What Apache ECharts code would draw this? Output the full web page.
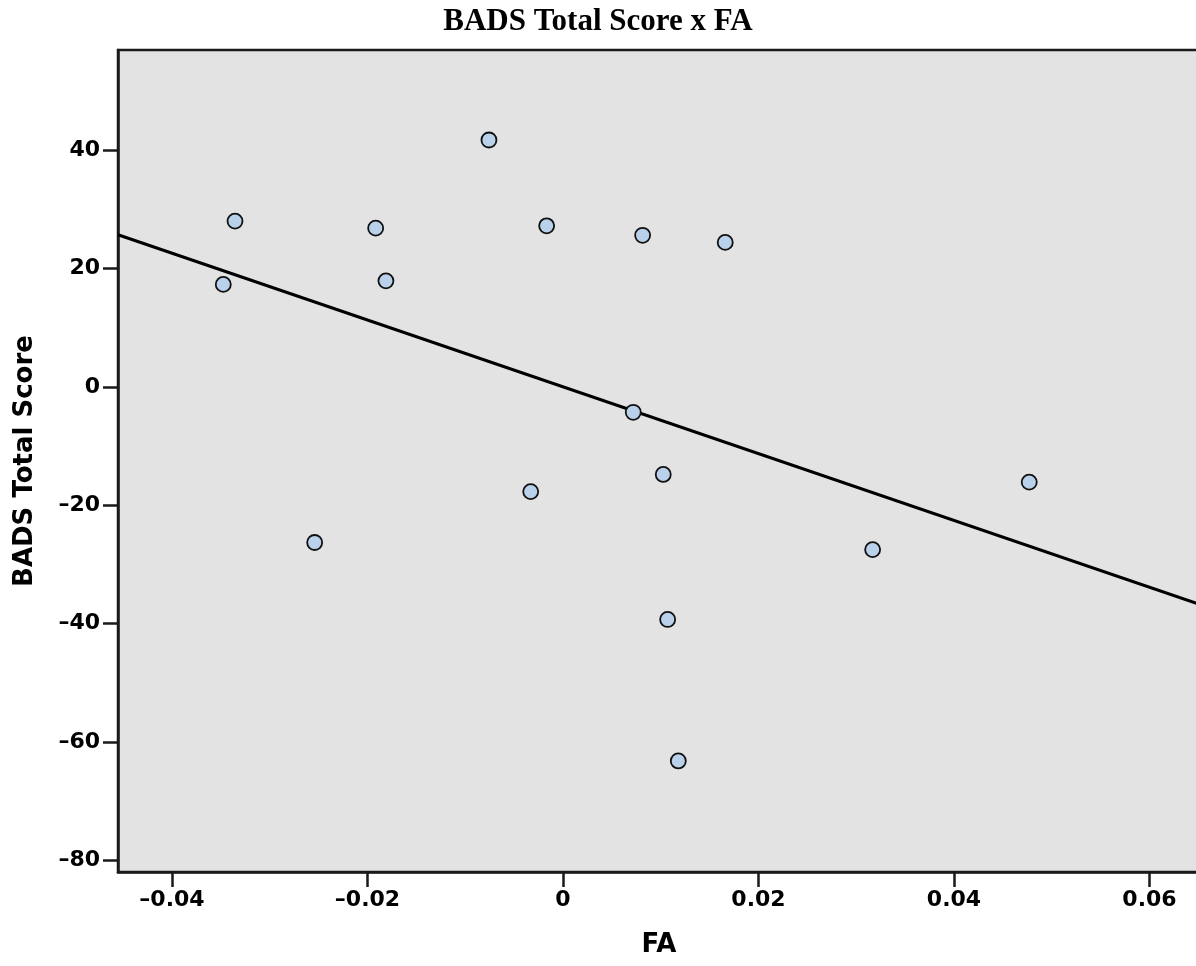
<!DOCTYPE html>
<html>
<head>
<meta charset="utf-8">
<title>BADS Total Score x FA</title>
<script src="https://cdn.jsdelivr.net/npm/echarts@6/dist/echarts.min.js"></script>
<style>
  html, body { margin: 0; padding: 0; background: #fff; }
  #chart { width: 1196px; height: 966px; }
</style>
</head>
<body>
<div id="chart"></div>
<script>
// data
const faValues = [-0.03355, -0.03475, -0.01916, -0.01811, -0.00757, -0.00167, 0.00815, 0.01660,
                  0.00719, 0.01026, -0.00330, -0.02540, 0.01071, 0.01180, 0.03168, 0.04770];
const badsValues = [28.0, 17.3, 26.8, 17.9, 41.7, 27.2, 25.6, 24.4,
                    -4.3, -14.8, -17.7, -26.3, -39.3, -63.2, -27.5, -16.1];
const xTicks = [-0.04, -0.02, 0, 0.02, 0.04, 0.06];
const yTicks = [-80, -60, -40, -20, 0, 20, 40];

const xMin = -0.04552, xMax = 0.06517;
const yMin = -81.96, yMax = 56.9;

// least squares fit line
function fitLine(xs, ys) {
  let n = xs.length, mx = 0, my = 0;
  for (let i = 0; i < n; i++) { mx += xs[i]; my += ys[i]; }
  mx /= n; my /= n;
  let sxy = 0, sxx = 0;
  for (let i = 0; i < n; i++) {
    sxy += (xs[i] - mx) * (ys[i] - my);
    sxx += (xs[i] - mx) * (xs[i] - mx);
  }
  let b = sxy / sxx;
  return { b: b, a: my - b * mx };
}
const fit = fitLine(faValues, badsValues);

const points = faValues.map((x, i) => [x, badsValues[i]]);
const lineData = [[xMin, fit.a + fit.b * xMin], [xMax, fit.a + fit.b * xMax]];

function fmt(v) {
  let s = String(Math.round(v * 1000) / 1000);
  return s.replace('-', '\u2013');
}

const tickFont = { color: "#000", fontFamily: "DejaVu Sans", fontWeight: "bold", fontSize: 22 };
const nameFont = { color: "#000", fontFamily: "DejaVu Sans", fontWeight: "bold", fontSize: 26 };

let option = {
  animation: false,
  title: {
    text: "BADS Total Score x FA",
    left: "center",
    top: 6,
    padding: 0,
    textStyle: { fontFamily: "Liberation Serif", fontWeight: "bold", fontSize: 31, color: "#000" }
  },
  grid: {
    left: 118,
    right: -4,
    top: 50,
    bottom: 94,
    outerBoundsMode: "none",
    show: true,
    backgroundColor: "#e3e3e3",
    borderColor: "#1a1a1a",
    borderWidth: 2.5
  },
  xAxis: {
    type: "value",
    min: xMin,
    max: xMax,
    name: "FA",
    nameLocation: "middle",
    nameGap: 60,
    nameTextStyle: nameFont,
    axisLine: { show: true, onZero: false, lineStyle: { color: "#1a1a1a", width: 2.5 } },
    axisTick: { show: true, length: 15, customValues: xTicks, lineStyle: { color: "#1a1a1a", width: 2.5 } },
    axisLabel: Object.assign({ margin: 17, customValues: xTicks, formatter: fmt }, tickFont),
    splitLine: { show: false }
  },
  yAxis: {
    type: "value",
    min: yMin,
    max: yMax,
    name: "BADS Total Score",
    nameLocation: "middle",
    nameGap: 80,
    nameTextStyle: nameFont,
    axisLine: { show: true, onZero: false, lineStyle: { color: "#1a1a1a", width: 2.5 } },
    axisTick: { show: true, length: 15, customValues: yTicks, lineStyle: { color: "#1a1a1a", width: 2.5 } },
    axisLabel: Object.assign({ margin: 18, customValues: yTicks, formatter: fmt }, tickFont),
    splitLine: { show: false }
  },
  series: [
    {
      name: "Fit",
      type: "line",
      data: lineData,
      symbol: "none",
      lineStyle: { color: "#000", width: 3 },
      z: 2
    },
    {
      name: "BADS",
      type: "scatter",
      data: points,
      symbol: "circle",
      symbolSize: 15,
      itemStyle: { color: "#b9d1ea", borderColor: "#111", borderWidth: 1.8, opacity: 1 },
      z: 3
    }
  ]
};

let chart = echarts.init(document.getElementById("chart"));
chart.setOption(option);
</script>
</body>
</html>
